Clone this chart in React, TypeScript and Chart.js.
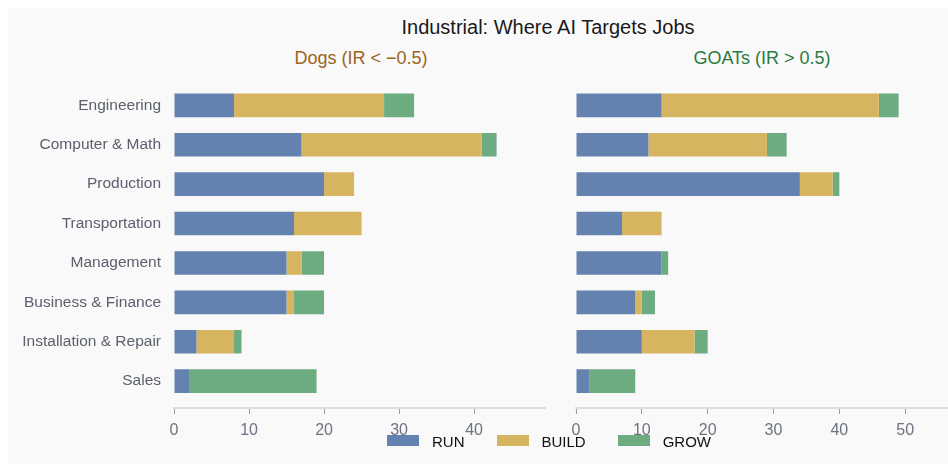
import React, { useEffect, useRef } from "react";
import { Chart, registerables } from "chart.js";

Chart.register(...registerables);

const FONT = "'Liberation Sans', Arial, Helvetica, sans-serif";
Chart.defaults.font.family = FONT;

const categories = [
  "Engineering",
  "Computer & Math",
  "Production",
  "Transportation",
  "Management",
  "Business & Finance",
  "Installation & Repair",
  "Sales",
];

const dogsRun = [8, 17, 20, 16, 15, 15, 3, 2];
const dogsBuild = [20, 24, 4, 9, 2, 1, 5, 0];
const dogsGrow = [4, 2, 0, 0, 3, 4, 1, 17];

const goatsRun = [13, 11, 34, 7, 13, 9, 10, 2];
const goatsBuild = [33, 18, 5, 6, 0, 1, 8, 0];
const goatsGrow = [3, 3, 1, 0, 1, 2, 2, 7];

const dogsTicks = [0, 10, 20, 30, 40];
const goatsTicks = [0, 10, 20, 30, 40, 50];

const seriesNames = ["RUN", "BUILD", "GROW"];
const seriesColors = ["#6482af", "#d7b45f", "#6dab81"];

const chartTitle = "Industrial: Where AI Targets Jobs";
const dogsTitle = "Dogs (IR < \u22120.5)";
const goatsTitle = "GOATs (IR > 0.5)";

type PanelProps = {
  run: number[];
  build: number[];
  grow: number[];
  ticks: number[];
  showLabels: boolean;
  left: number;
  top: number;
  width: number;
  height: number;
  yWidth: number;
  padRight: number;
};

function Panel(props: PanelProps) {
  const ref = useRef<HTMLCanvasElement | null>(null);
  useEffect(() => {
    if (!ref.current) return;
    const { run, build, grow, ticks, showLabels, yWidth, padRight } = props;
    const totals = run.map((v, i) => v + build[i] + grow[i]);
    const xMax = Math.max(...totals) * 1.15;
    const n = categories.length;
    const yPad = (n - 1 + 0.6) * 0.05;
    const chart = new Chart(ref.current, {
      type: "bar",
      data: {
        datasets: [run, build, grow].map((vals, k) => ({
          label: seriesNames[k],
          data: vals.map((v, i) => ({ x: v, y: i })),
          backgroundColor: seriesColors[k],
          borderWidth: 0,
          barPercentage: 0.6,
          categoryPercentage: 1,
        })),
      },
      options: {
        indexAxis: "y",
        animation: false,
        responsive: false,
        maintainAspectRatio: false,
        devicePixelRatio: 1,
        layout: { padding: { top: 8.5, right: padRight, left: 0, bottom: 0 } },
        plugins: {
          legend: { display: false },
          tooltip: { enabled: false },
          title: { display: false },
        },
        scales: {
          x: {
            type: "linear",
            stacked: true,
            min: 0,
            max: xMax,
            offset: false,
            afterBuildTicks: (s: any) => {
              s.ticks = ticks.map((v) => ({ value: v }));
            },
            afterFit: (s: any) => {
              s.height = 40;
              s.paddingLeft = 0;
              s.paddingRight = 0;
            },
            grid: {
              display: true,
              drawOnChartArea: false,
              drawTicks: true,
              tickLength: 6,
              color: "#9a9a9a",
              lineWidth: 1,
            },
            border: { display: true, color: "#dddddd", width: 2 },
            ticks: {
              padding: 7,
              color: "#6e7380",
              font: { size: 16, family: FONT },
              maxRotation: 0,
            },
          },
          y: {
            type: "linear",
            stacked: true,
            reverse: true,
            offset: false,
            min: -0.3 - yPad,
            max: n - 1 + 0.3 + yPad,
            afterBuildTicks: (s: any) => {
              s.ticks = categories.map((_, i) => ({ value: i }));
            },
            afterFit: (s: any) => {
              s.width = yWidth;
              s.paddingTop = 0;
              s.paddingBottom = 0;
            },
            grid: { display: false, drawTicks: false, offset: false },
            border: { display: false },
            ticks: {
              display: showLabels,
              padding: 13,
              color: "#5b606c",
              font: { size: 15.5, family: FONT },
              callback: (v: any) => categories[v as number] ?? "",
            },
          },
        },
      } as any,
    });
    return () => chart.destroy();
  }, []);
  return (
    <canvas
      ref={ref}
      width={props.width}
      height={props.height}
      style={{
        position: "absolute",
        left: props.left,
        top: props.top,
        width: props.width,
        height: props.height,
      }}
    />
  );
}

export default function App() {
  return (
    <div
      style={{
        position: "fixed",
        left: 8,
        top: 8,
        right: 0,
        bottom: 0,
        background: "#f9f9f9",
        fontFamily: FONT,
        overflow: "hidden",
      }}
    >
      <div
        style={{
          position: "absolute",
          left: 540,
          top: 9,
          transform: "translateX(-50%)",
          fontSize: 20,
          lineHeight: "20px",
          color: "#1a1a1a",
          whiteSpace: "nowrap",
        }}
      >
        {chartTitle}
      </div>
      <div
        style={{
          position: "absolute",
          left: 353,
          top: 41,
          transform: "translateX(-50%)",
          fontSize: 18,
          lineHeight: "18px",
          color: "#9c6420",
          whiteSpace: "nowrap",
        }}
      >
        {dogsTitle}
      </div>
      <div
        style={{
          position: "absolute",
          left: 754,
          top: 41,
          transform: "translateX(-50%)",
          fontSize: 18,
          lineHeight: "18px",
          color: "#2b7a3e",
          whiteSpace: "nowrap",
        }}
      >
        {goatsTitle}
      </div>
      <Panel
        run={dogsRun}
        build={dogsBuild}
        grow={dogsGrow}
        ticks={dogsTicks}
        showLabels={true}
        left={0}
        top={62}
        width={540}
        height={378}
        yWidth={166}
        padRight={3}
      />
      <Panel
        run={goatsRun}
        build={goatsBuild}
        grow={goatsGrow}
        ticks={goatsTicks}
        showLabels={false}
        left={552}
        top={62}
        width={388}
        height={378}
        yWidth={16}
        padRight={1}
      />
      <div
        style={{
          position: "absolute",
          left: 379,
          top: 426,
          display: "flex",
          alignItems: "flex-start",
          whiteSpace: "nowrap",
        }}
      >
        {seriesNames.map((name, k) => (
          <div key={name} style={{ display: "flex", alignItems: "flex-start", marginRight: 32 }}>
            <div
              style={{
                width: 32,
                height: 11,
                marginTop: 1,
                marginRight: 13,
                background: seriesColors[k],
              }}
            />
            <div style={{ fontSize: 15, lineHeight: "15px", color: "#111111" }}>{name}</div>
          </div>
        ))}
      </div>
    </div>
  );
}
